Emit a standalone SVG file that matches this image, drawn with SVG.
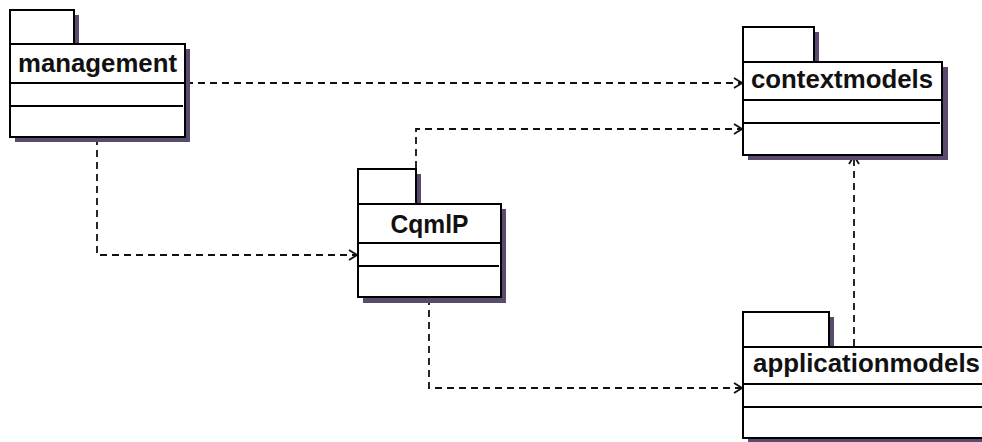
<svg xmlns="http://www.w3.org/2000/svg" width="982" height="442" viewBox="0 0 982 442">
<defs>
<style>
.shadow{fill:#594a6e;stroke:none}
.box{fill:#ffffff;stroke:#000000;stroke-width:2}
.sep{stroke:#000000;stroke-width:2;fill:none}
.lbl{font-family:"Liberation Sans",Arial,sans-serif;font-weight:bold;font-size:26px;fill:#111111;text-anchor:middle}
.dep{fill:none;stroke:#111111;stroke-width:1.8;stroke-dasharray:7,5;marker-end:url(#arr)}
</style>
<marker id="arr" viewBox="0 0 10 12" refX="9" refY="6" markerWidth="10" markerHeight="12" markerUnits="userSpaceOnUse" orient="auto">
<path d="M1,1 L9,6 L1,11" fill="none" stroke="#111111" stroke-width="1.8"/>
</marker>
</defs>
<rect width="982" height="442" fill="#ffffff"/>
<g id="connectors">
<path class="dep" d="M186,83 L742,83"/>
<path class="dep" d="M97,138 L97,255 L357,255"/>
<path class="dep" d="M416,168 L416,129 L742,129"/>
<path class="dep" d="M429,298 L429,388 L742,388"/>
<path class="dep" d="M854,346 L854,156"/>
</g>
<g id="management">
<rect class="shadow" x="15" y="15" width="64" height="34"/>
<rect class="shadow" x="15" y="49" width="175" height="93"/>
<rect class="box" x="10" y="10" width="64" height="34"/>
<rect class="box" x="10" y="44" width="175" height="93"/>
<line class="sep" x1="10" y1="83" x2="185" y2="83"/>
<line class="sep" x1="10" y1="106" x2="183" y2="106"/>
<text class="lbl" x="97.5" y="72" textLength="159" lengthAdjust="spacingAndGlyphs">management</text>
</g>
<g id="CqmlP">
<rect class="shadow" x="363" y="174" width="58" height="34"/>
<rect class="shadow" x="363" y="209" width="143" height="94"/>
<rect class="box" x="358" y="169" width="58" height="35"/>
<rect class="box" x="358" y="204" width="143" height="93"/>
<line class="sep" x1="358" y1="243" x2="501" y2="243"/>
<line class="sep" x1="358" y1="266" x2="499" y2="266"/>
<text class="lbl" x="429.5" y="233" textLength="78" lengthAdjust="spacingAndGlyphs">CqmlP</text>
</g>
<g id="contextmodels">
<rect class="shadow" x="748" y="32" width="71" height="34"/>
<rect class="shadow" x="748" y="67" width="200" height="93"/>
<rect class="box" x="743" y="27" width="71" height="35"/>
<rect class="box" x="743" y="62" width="199" height="93"/>
<line class="sep" x1="743" y1="100" x2="942" y2="100"/>
<line class="sep" x1="743" y1="123" x2="940" y2="123"/>
<text class="lbl" x="842" y="88" textLength="182" lengthAdjust="spacingAndGlyphs">contextmodels</text>
</g>
<g id="applicationmodels">
<rect class="shadow" x="748" y="317" width="86" height="34"/>
<rect class="shadow" x="748" y="352" width="245" height="93"/>
<rect class="box" x="743" y="312" width="86" height="35"/>
<rect class="box" x="743" y="347" width="244" height="91"/>
<line class="sep" x1="743" y1="384" x2="987" y2="384"/>
<line class="sep" x1="743" y1="407" x2="987" y2="407"/>
<text class="lbl" x="866.5" y="372" textLength="227" lengthAdjust="spacingAndGlyphs">applicationmodels</text>
</g>
</svg>
